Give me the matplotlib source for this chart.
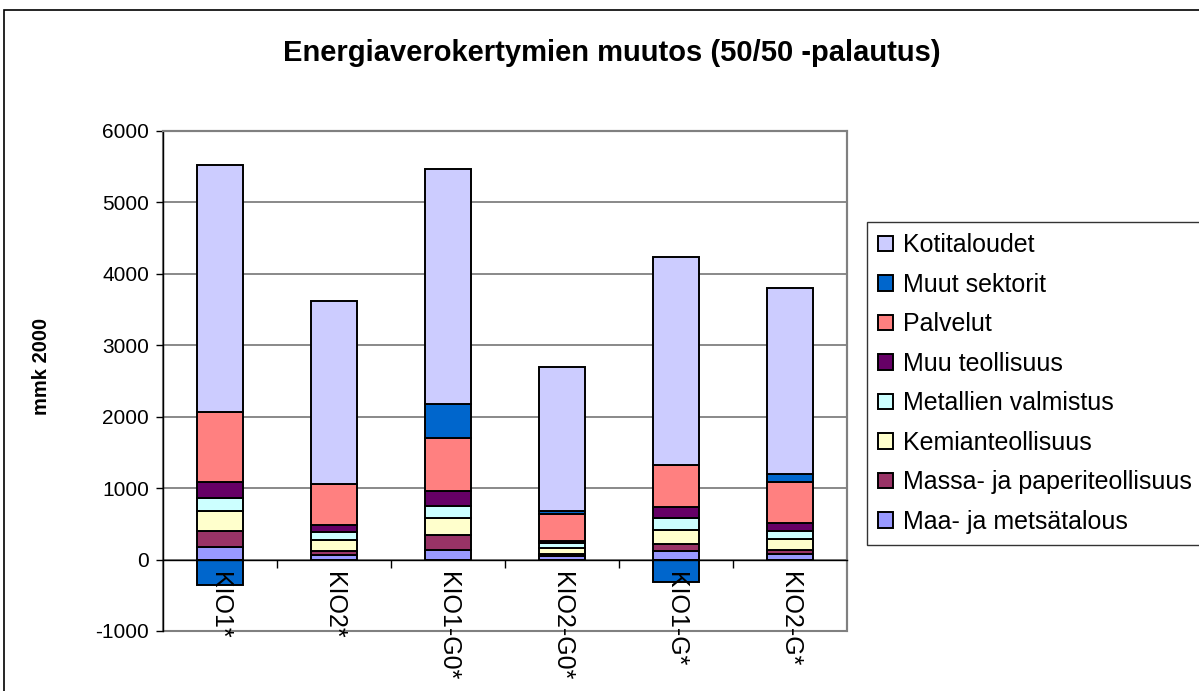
import numpy as np
import matplotlib.pyplot as plt
from matplotlib.patches import Rectangle

plt.rcParams['font.family'] = ['Liberation Sans', 'DejaVu Sans']
plt.rcParams['axes.unicode_minus'] = False

categories = ["KIO1*", "KIO2*", "KIO1-G0*", "KIO2-G0*", "KIO1-G*", "KIO2-G*"]

# sector values, bottom of the stack first
maa = [170, 65, 140, 47, 117, 79]
massa = [225, 60, 205, 25, 103, 61]
kemian = [285, 145, 233, 90, 200, 149]
metallien = [180, 112, 177, 75, 158, 107]
muu_teol = [230, 102, 200, 30, 158, 112]
palvelut = [970, 573, 741, 378, 587, 583]
muut_sektorit = [-360, 0, 480, 33, -310, 107]
kotitaloudet = [3470, 2560, 3298, 2020, 2906, 2602]

series = [
    ("Maa- ja metsätalous", maa, "#9999FF"),
    ("Massa- ja paperiteollisuus", massa, "#993366"),
    ("Kemianteollisuus", kemian, "#FFFFCC"),
    ("Metallien valmistus", metallien, "#CCFFFF"),
    ("Muu teollisuus", muu_teol, "#660066"),
    ("Palvelut", palvelut, "#FF8080"),
    ("Muut sektorit", muut_sektorit, "#0066CC"),
    ("Kotitaloudet", kotitaloudet, "#CCCCFF"),
]

W, H = 1199, 691
fig = plt.figure(figsize=(W / 100, H / 100), dpi=100)
# chart area border
fig.patches.append(Rectangle((4 / W, -0.05), 1.1, (681 + 35) / H, transform=fig.transFigure,
                             fill=False, edgecolor="black", linewidth=1.2))

ax = fig.add_axes([163 / W, (H - 631) / H, 684 / W, 500 / H])
x = np.arange(len(categories))
pos_bottom = np.zeros(len(categories))
neg_bottom = np.zeros(len(categories))
handles = []
for name, vals, color in series:
    vals = np.array(vals, dtype=float)
    bottom = np.where(vals >= 0, pos_bottom, neg_bottom)
    b = ax.bar(x, vals, width=0.41, bottom=bottom, color=color, edgecolor="black",
               linewidth=1.4, label=name, zorder=3)
    handles.append(b)
    pos_bottom += np.where(vals >= 0, vals, 0)
    neg_bottom += np.where(vals < 0, vals, 0)

ax.set_xlim(-0.5, len(categories) - 0.5)
ax.set_ylim(-1000, 6000)
ax.set_yticks(range(-1000, 6001, 1000))
ax.yaxis.grid(True, color="#808080", linewidth=1.3)
ax.tick_params(axis="y", labelsize=15, length=5, width=1, direction="out", pad=5)
for s in ["top", "right"]:
    ax.spines[s].set_color("#808080")
    ax.spines[s].set_linewidth(1.5)
ax.spines["left"].set_linewidth(1)
ax.spines["bottom"].set_position(("data", 0))
ax.spines["bottom"].set_linewidth(1)

ax.set_xticks(x)
ax.set_xticklabels(categories, rotation=270, fontsize=18, va="top", ha="center")
ax.tick_params(axis="x", which="major", length=0, pad=9)
ax.set_xticks(np.arange(0.5, len(categories) - 0.5, 1), minor=True)
ax.tick_params(axis="x", which="minor", length=6, width=1, direction="out")
# grid behind bars, category labels on top of them
ax.yaxis.set_zorder(1)
ax.xaxis.set_zorder(5)
ax.spines["bottom"].set_zorder(5)

# plot bottom border (gray)
ax.add_patch(Rectangle((0, 0), 1, 1, transform=ax.transAxes, fill=False,
                       edgecolor="#808080", linewidth=1.5, zorder=1, clip_on=False))

ax.set_ylabel("mmk 2000", fontsize=14.5, fontweight="bold")
ax.yaxis.set_label_coords(-(163 - 51) / 684, (631 - 366) / 500)
fig.text(612 / W, 1 - 53 / H, "Energiaverokertymien muutos (50/50 -palautus)",
         fontsize=21, fontweight="bold", ha="center", va="center")

leg = fig.legend(handles[::-1], [s[0] for s in series][::-1], loc="upper left",
                 bbox_to_anchor=(867 / W, 1 - 222 / H), fontsize=18, frameon=True,
                 fancybox=False, edgecolor="black", handlelength=0.6, handleheight=0.6,
                 handletextpad=0.4, labelspacing=0.62, borderpad=0.45, borderaxespad=0)
leg.get_frame().set_linewidth(1)

fig.savefig("out.png", dpi=100)
